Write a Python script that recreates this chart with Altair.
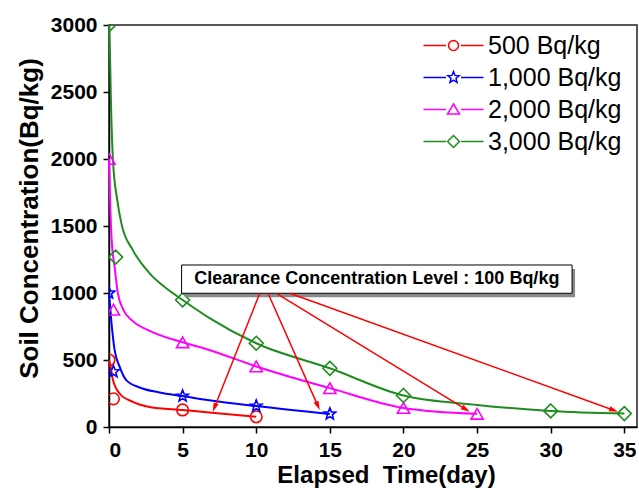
import math
import altair as alt
import pandas as pd

FONT = "Liberation Sans"

series = ["500 Bq/kg", "1,000 Bq/kg", "2,000 Bq/kg", "3,000 Bq/kg"]
colors = ["#FF0000", "#0000FF", "#FF00FF", "#1E8C1E"]

# measured points (day, Bq/kg)
m500_t = [0, 0.3, 5, 10]
m500_v = [500, 210, 127, 76]
m1000_t = [0, 0.3, 5, 10, 15]
m1000_v = [1000, 413, 231, 156, 97]
m2000_t = [0, 0.3, 5, 10, 15, 20, 25]
m2000_v = [2000, 875, 632, 452, 290, 142, 98]
m3000_t = [0, 0.45, 5, 10, 15, 20, 30, 35]
m3000_v = [3000, 1268, 948, 625, 438, 235, 120, 100]

# fitted curves
c500_t = [0, 0.1, 0.27, 0.72, 1.62, 2.76, 5, 6.8, 10]
c500_v = [500, 455, 350, 250, 188, 150, 127, 108, 76]
c1000_t = [0, 0.15, 0.38, 0.72, 1.17, 2.08, 3.43, 5, 6.8, 10, 15]
c1000_v = [1000, 800, 575, 450, 350, 295, 258, 231, 200, 156, 97]
c2000_t = [0, 0.05, 0.1, 0.18, 0.38, 0.6, 0.95, 1.62, 2.76, 5, 6.8, 10, 15, 20, 25]
c2000_v = [2000, 1800, 1600, 1400, 1196, 1000, 880, 790, 718, 632, 575, 452, 290, 142, 98]
c3000_t = [0, 0.075, 0.13, 0.27, 0.55, 0.86, 1.62, 2.76, 3.89, 5, 6.8, 10, 15, 20, 25, 30, 35]
c3000_v = [3000, 2740, 2440, 1990, 1700, 1510, 1320, 1147, 1035, 948, 815, 625, 438, 235, 165, 120, 100]

# annotation
note_text = "Clearance Concentration Level : 100 Bq/kg"
box_x, box_x2, box_y, box_y2 = 4.93, 31.45, 998, 1209
arrow_x1 = [10.24, 10.8, 11.37, 12.28]
arrow_y1 = [998, 998, 998, 998]
arrow_x2 = [7.05, 14.31, 24.5, 34.57]
arrow_y2 = [114, 127, 114, 114]

X_MAX, Y_MAX = 35.86, 3000
W, H = 528, 402
PX = W / X_MAX
PY = H / Y_MAX

def frame(ts, vs, name):
    return pd.DataFrame({"t": ts, "v": vs, "s": name})

markers = pd.concat([frame(m500_t, m500_v, series[0]), frame(m1000_t, m1000_v, series[1]),
                     frame(m2000_t, m2000_v, series[2]), frame(m3000_t, m3000_v, series[3])],
                    ignore_index=True)
curves = pd.concat([frame(c500_t, c500_v, series[0]), frame(c1000_t, c1000_v, series[1]),
                    frame(c2000_t, c2000_v, series[2]), frame(c3000_t, c3000_v, series[3])],
                   ignore_index=True)

# arrows
arrows = pd.DataFrame({"x1": arrow_x1, "y1": arrow_y1, "x2": arrow_x2, "y2": arrow_y2})
dx = (arrows.x2 - arrows.x1) * PX
dy = -(arrows.y2 - arrows.y1) * PY
ln = (dx ** 2 + dy ** 2) ** 0.5
arrows["angle"] = [float((math.degrees(math.atan2(a, -b)) + 360) % 360) for a, b in zip(dx, dy)]
HEAD = 4.5
arrows["hx"] = arrows.x2 - (dx / ln) * HEAD / PX
arrows["hy"] = arrows.y2 + (dy / ln) * HEAD / PY

box = pd.DataFrame({"x": [box_x], "x2": [box_x2], "y": [box_y], "y2": [box_y2], "label": [note_text]})
box["mx"] = (box.x + box.x2) / 2
box["my"] = (box.y + box.y2) / 2
shadow = pd.DataFrame({"x": [box_x + 3 / PX], "x2": [box_x2 + 3 / PX],
                       "y": [box_y - 4 / PY], "y2": [box_y2 - 4 / PY]})

# symbol paths
def poly(n, r, rot=-90.0, r2=None):
    pts_ = []
    for k in range(n):
        rr = r if (r2 is None or k % 2 == 0) else r2
        a = math.radians(rot + 360.0 * k / n)
        pts_.append(f"{rr*math.cos(a):.3f},{rr*math.sin(a):.3f}")
    return "M" + "L".join(pts_) + "Z"

marker_shapes = ["circle", poly(10, 1.05, r2=0.45), "triangle-up", "M0,-1.2L1.2,0L0,1.2L-1.2,0Z"]
marker_sizes = [135, 135, 150, 135]

# legend symbol: line - marker - line (unit = 10 px)
seg = "M-3,0L-0.75,0M0.75,0L3,0"
legend_paths = [
    seg + poly(16, 0.5),
    seg + poly(10, 0.6, r2=0.26),
    seg + "M0,-0.55L0.6,0.45L-0.6,0.45Z",
    seg + "M0,-0.6L0.6,0L0,0.6L-0.6,0Z",
]

xs = alt.Scale(domain=[0, X_MAX], nice=False, zero=False)
ys = alt.Scale(domain=[0, Y_MAX], nice=False)
cs = alt.Scale(domain=series, range=colors)

x_axis = alt.Axis(values=[0, 5, 10, 15, 20, 25, 30, 35], title="Elapsed\u00a0 Time(day)",
                  titleX=277, titleY=55, titleAlign="center", titleBaseline="alphabetic",
                  titleFontSize=24, labelPadding=6, format="d")
y_axis = alt.Axis(values=[0, 500, 1000, 1500, 2000, 2500, 3000], title="Soil Concentration(Bq/kg)",
                  titleX=-80, titleY=193, titleAngle=-90, titleAlign="center", titleBaseline="middle",
                  titleFontSize=26, labelPadding=6, format="d")

line_layers = []
for i, (name, col) in enumerate(zip(series, colors)):
    enc = {"x": alt.X("t:Q", scale=xs, axis=x_axis), "y": alt.Y("v:Q", scale=ys, axis=y_axis)} if i == 0 \
        else {"x": "t:Q", "y": "v:Q"}
    line_layers.append(
        alt.Chart(curves).transform_filter(alt.datum.s == name)
        .mark_line(strokeWidth=2, interpolate="monotone", color=col).encode(**enc)
    )

marker_layers = [
    alt.Chart(markers).transform_filter(alt.datum.s == name).mark_point(
        filled=False, strokeWidth=1.6, size=sz, shape=shp, color=col, opacity=1, clip=True
    ).encode(x="t:Q", y="v:Q")
    for name, shp, col, sz in zip(series, marker_shapes, colors, marker_sizes)
]

legend_layer = alt.Chart(markers).mark_point(filled=False, opacity=0).encode(
    x="t:Q", y="v:Q",
    color=alt.Color("s:N", scale=cs, legend=alt.Legend(title=None)),
    shape=alt.Shape("s:N", scale=alt.Scale(domain=series, range=legend_paths),
                    legend=alt.Legend(title=None)),
)

shadow_l = alt.Chart(shadow).mark_rect(color="#8a8a8a").encode(x="x:Q", x2="x2:Q", y="y:Q", y2="y2:Q")
box_l = alt.Chart(box).mark_rect(fill="white", stroke="black", strokeWidth=1).encode(
    x="x:Q", x2="x2:Q", y="y:Q", y2="y2:Q")
text_l = alt.Chart(box).mark_text(font=FONT, fontSize=18, fontWeight="bold", color="black",
                                  align="center", baseline="middle").encode(
    x="mx:Q", y="my:Q", text="label:N")

arrow_l = alt.Chart(arrows).mark_rule(color="#FF0000", strokeWidth=1.5).encode(
    x="x1:Q", y="y1:Q", x2="hx:Q", y2="hy:Q")
head_l = alt.Chart(arrows).mark_point(shape="M0,-1L0.6,1L-0.6,1Z", filled=True, color="#FF0000",
                                      opacity=1, size=80).encode(
    x="hx:Q", y="hy:Q", angle=alt.Angle("angle:Q", scale=None))

chart = alt.layer(*line_layers, *marker_layers, legend_layer, shadow_l, box_l, text_l,
                  arrow_l, head_l).properties(
    width=W, height=H,
    padding={"left": 109, "top": 25, "right": 2, "bottom": 61},
    autosize=alt.AutoSizeParams(type="none"),
).configure_view(stroke="#222222", strokeWidth=1.5).configure_axis(
    grid=False, domainColor="black", domainWidth=1.5, tickColor="black", tickWidth=1.5,
    tickSize=6, labelFont=FONT, labelFontWeight="bold", labelFontSize=21, labelColor="black",
    titleFont=FONT, titleFontWeight="bold", titleColor="black",
).configure_legend(
    orient="none", legendX=332, legendY=8, padding=0, symbolSize=400, symbolOpacity=1,
    symbolStrokeWidth=1.5, labelFont=FONT, labelFontSize=25,
    labelColor="black", labelOffset=22, rowPadding=6, labelLimit=300,
)

chart.save("out.html", embed_options={"renderer": "svg", "actions": False})
